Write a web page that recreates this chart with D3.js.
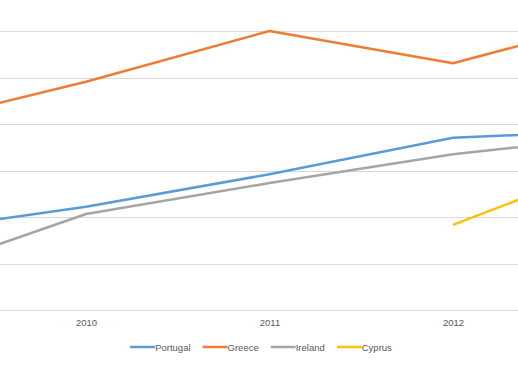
<!DOCTYPE html>
<meta charset="utf-8">
<script src="https://d3js.org/d3.v7.min.js"></script>
<style>
  body { margin: 0; background: #fff; }
  svg { display: block; font-family: "Liberation Sans", Arial, sans-serif; }
</style>
<div id="chart"></div>
<script>

    // Data (general government debt, % of GDP)
    const years = [2009, 2010, 2011, 2012, 2013]
    const portugal = [83.2, 94.4, 108.4, 124.1, 127.4]
    const greece = [128.9, 148.2, 170, 156.1, 177.1]
    const ireland = [63.8, 91.3, 104.6, 117.0, 125.5]
    const cyprus = [null, null, null, 86.6, 116.9]
    const yTicks = [50, 70, 90, 110, 130, 150, 170, 190]

    const series = [
        { name: "Portugal", values: portugal, color: "#5b9bd5" },
        { name: "Greece", values: greece, color: "#ed7d31" },
        { name: "Ireland", values: ireland, color: "#a5a5a5" },
        { name: "Cyprus", values: cyprus, color: "#ffc000" }
    ]

    const width = 518, height = 369

    const svg = d3.select("#chart")
        .append("svg")
        .attr("width", width)
        .attr("height", height)

    // the plot is wider than the window: only 2010-2012 are fully visible
    const x = d3.scalePoint()
        .domain(years)
        .range([-97.5, 636.5])

    const y = d3.scaleLinear()
        .domain([50, 170])
        .range([310, 31])

    // horizontal gridlines
    svg.append("g")
        .selectAll("line")
        .data(yTicks)
        .join("line")
        .attr("x1", 0)
        .attr("x2", width)
        .attr("y1", d => Math.round(y(d)) + 0.5)
        .attr("y2", d => Math.round(y(d)) + 0.5)
        .style("stroke", "#d9d9d9")
        .style("stroke-width", 1)

    // category labels, only those inside the window
    const shownYears = years.filter(d => x(d) > 20 && x(d) < width - 20)
    const xAxis = svg.append("g")
        .attr("transform", `translate(0,${y(50)})`)
        .call(d3.axisBottom(x).tickValues(shownYears).tickSize(0).tickPadding(9).tickFormat(d3.format("d")))
    xAxis.select(".domain").remove()
    xAxis.selectAll("text")
        .style("font-size", "9.5px")
        .style("fill", "#595959")
        .style("font-family", "Liberation Sans, Arial, sans-serif")

    const line = d3.line()
        .defined(d => d.v !== null)
        .x(d => x(d.year))
        .y(d => y(d.v))

    svg.append("g")
        .selectAll("path")
        .data(series)
        .join("path")
        .attr("d", s => line(s.values.map((v, i) => ({ year: years[i], v: v }))))
        .style("fill", "none")
        .style("stroke", s => s.color)
        .style("stroke-width", 2.5)
        .style("stroke-linejoin", "round")

    // legend, centred under the plot
    const legend = svg.append("g")
    let cx = 0
    series.forEach(function (s) {
        const item = legend.append("g").attr("transform", `translate(${cx},0)`)
        item.append("line")
            .attr("x1", 0).attr("x2", 25)
            .attr("y1", 0).attr("y2", 0)
            .style("stroke", s.color)
            .style("stroke-width", 2.5)
        const t = item.append("text")
            .attr("x", 25)
            .attr("y", 3.5)
            .text(s.name)
            .style("font-size", "9.5px")
            .style("fill", "#595959")
        cx += 25 + t.node().getComputedTextLength() + 12
    })
    const lw = cx - 12
    legend.attr("transform", `translate(${261 - lw / 2},347)`)

</script>
